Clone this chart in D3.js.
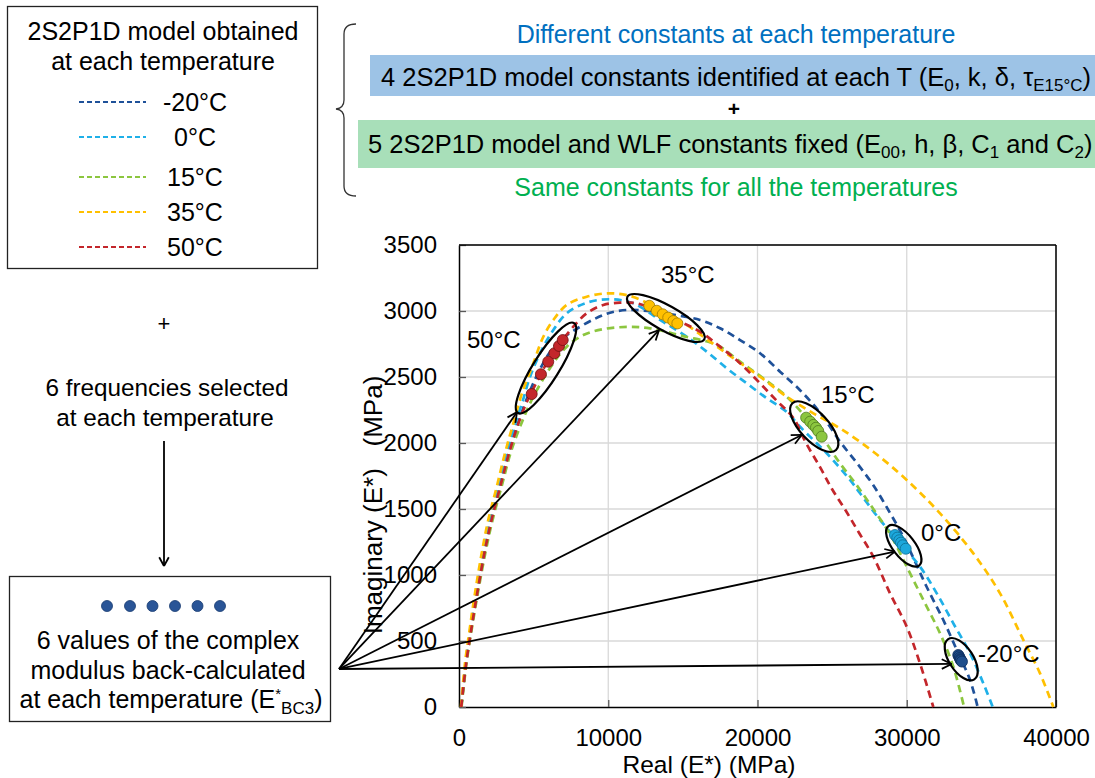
<!DOCTYPE html>
<html><head><meta charset="utf-8">
<script src="https://cdn.jsdelivr.net/npm/d3@7"></script>
<style>body{margin:0;background:#fff} text{font-family:"Liberation Sans",Arial,sans-serif}</style>
</head><body><svg id="c" width="1095" height="778"></svg>
<script>
// ---- data ----
const temps = ["-20°C", "0°C", "15°C", "35°C", "50°C"];
const colors = ["#1f5199", "#1fb0e8", "#8cc63f", "#ffc000", "#c3262b"];
const xTicks = [0, 10000, 20000, 30000, 40000];
const yTicks = [0, 500, 1000, 1500, 2000, 2500, 3000, 3500];

const curveM20 = [[150,0],[470,330],[840,608],[1200,861],[1680,1164],[2160,1417],[2740,1669],[3330,1922],[3950,2149],[4600,2351],[5300,2530],[6100,2690],[6900,2790],[7660,2850],[9000,2935],[10120,2987],[11240,3008],[12350,3003],[14200,2975],[16150,2932],[17490,2869],[18830,2780],[20170,2680],[21510,2540],[22850,2400],[24190,2230],[25530,2010],[26650,1850],[27760,1680],[28880,1470],[29770,1290],[30560,1100],[31340,909],[32450,659],[33350,432],[34240,205],[34750,0]];
const curve0 = [[150,0],[450,330],[800,608],[1150,861],[1600,1164],[2050,1417],[2620,1669],[3200,1922],[3780,2149],[4300,2330],[4760,2502],[5540,2705],[6320,2856],[7220,2983],[8560,3063],[10120,3089],[11680,3058],[13470,2932],[15260,2805],[16600,2692],[17940,2566],[19280,2452],[20620,2339],[21960,2235],[22850,2123],[24640,1922],[26200,1720],[26870,1619],[28210,1417],[29550,1240],[30890,1063],[32010,861],[33120,634],[34240,407],[35130,180],[35760,0]];
const curve15 = [[170,0],[500,330],[880,608],[1260,861],[1760,1164],[2250,1417],[2850,1669],[3450,1922],[4090,2123],[4980,2351],[6320,2604],[7220,2730],[8330,2818],[9670,2863],[11240,2879],[12800,2869],[15000,2810],[17270,2743],[18830,2616],[20390,2490],[21960,2351],[23260,2192],[24300,2048],[25530,1846],[26650,1680],[27760,1500],[28880,1310],[30000,1063],[31110,811],[32230,558],[33120,305],[33840,0]];
const curve35 = [[130,0],[400,330],[740,608],[1070,861],[1520,1164],[1960,1417],[2530,1669],[3080,1922],[3640,2149],[4200,2370],[4980,2604],[5650,2805],[6320,2932],[7220,3046],[8560,3108],[10000,3134],[11460,3114],[12800,3050],[14000,2965],[15260,2894],[16820,2768],[18380,2642],[20170,2502],[21960,2351],[23740,2225],[25530,2111],[27760,1934],[29995,1720],[32230,1467],[34460,1164],[36250,861],[37810,508],[38930,255],[39820,0]];
const curve50 = [[150,0],[480,330],[850,608],[1220,861],[1700,1164],[2180,1417],[2760,1669],[3350,1922],[3980,2149],[4620,2330],[5200,2460],[5800,2590],[6400,2690],[6950,2780],[7660,2881],[8560,2983],[9670,3046],[10790,3063],[11910,3058],[13500,2990],[14800,2920],[16150,2843],[17490,2730],[18830,2604],[20170,2452],[21290,2320],[22400,2190],[23250,2000],[24200,1815],[25000,1650],[25900,1490],[26800,1320],[27760,1139],[28880,861],[30000,608],[30890,329],[31780,0]];

const ptsM20 = [[33450,394],[33500,384],[33550,371],[33600,361],[33620,354],[33700,344]];
const pts0 = [[29210,1303],[29370,1283],[29500,1263],[29610,1245],[29730,1225],[29930,1199]];
const pts15 = [[23260,2192],[23530,2162],[23740,2137],[23920,2116],[24070,2091],[24300,2048]];
const pts35 = [[12750,3040],[13250,3002],[13650,2975],[14020,2950],[14360,2924],[14630,2906]];
const pts50 = [[4870,2371],[5490,2521],[5980,2616],[6390,2680],[6700,2735],[6950,2780]];

const curves = [curveM20, curve0, curve15, curve35, curve50];
const points = [ptsM20, pts0, pts15, pts35, pts50];

// annotation anchors (data units)
const ellipseCenters = [[33650,362],[29800,1221],[23800,2124],[13860,2947],[5830,2568]];
const arrowTips = [[33010,326],[29210,1177],[22960,2061],[13400,2856],[3890,2235]];
const arrowOrigin = [-8040,288];

// ---- drawing ----
const svg = d3.select("#c");
svg.append("rect").attr("width",1095).attr("height",778).attr("fill","#fff");

const x = d3.scaleLinear([0,40000],[459,1056]);
const y = d3.scaleLinear([0,3500],[707,245]);

// grid
const g = svg.append("g");
g.selectAll(".gy").data(yTicks.slice(1)).join("line")
  .attr("x1",x(0)).attr("x2",x(40000)).attr("y1",d=>y(d)).attr("y2",d=>y(d))
  .attr("stroke","#d9d9d9").attr("stroke-width",1.3);
g.selectAll(".gx").data(xTicks.slice(1)).join("line")
  .attr("y1",y(0)).attr("y2",y(3500)).attr("x1",d=>x(d)).attr("x2",d=>x(d))
  .attr("stroke","#d9d9d9").attr("stroke-width",1.3);

// axes
const ax = svg.append("g").attr("transform",`translate(0,${y(0)})`)
  .call(d3.axisBottom(x).tickValues(xTicks).tickFormat(d3.format("d")).tickSizeInner(-7).tickSizeOuter(0).tickPadding(22));
const ay = svg.append("g").attr("transform",`translate(${x(0)},0)`)
  .call(d3.axisLeft(y).tickValues(yTicks).tickFormat(d3.format("d")).tickSizeInner(-7).tickSizeOuter(0).tickPadding(22));
[ax,ay].forEach(a=>{
  a.select(".domain").attr("stroke","#000").attr("stroke-width",1.5);
  a.selectAll(".tick line").attr("stroke","#595959").attr("stroke-width",1.3);
  a.selectAll(".tick text").attr("font-size",24).attr("fill","#000").attr("font-family","Liberation Sans, Arial, sans-serif");
});
// top & right border
svg.append("line").attr("x1",x(0)).attr("x2",x(40000)).attr("y1",y(3500)).attr("y2",y(3500)).attr("stroke","#000").attr("stroke-width",1.5);
svg.append("line").attr("x1",x(40000)).attr("x2",x(40000)).attr("y1",y(0)).attr("y2",y(3500)).attr("stroke","#000").attr("stroke-width",1.5);

// axis titles
svg.append("text").attr("x",709).attr("y",773).attr("text-anchor","middle").attr("font-size",24.5).text("Real (E*) (MPa)");
svg.append("text").attr("transform","translate(382,505) rotate(-90)").attr("text-anchor","middle").attr("font-size",26).attr("xml:space","preserve").text("Imaginary (E*)   (MPa)");

// curves
const line = d3.line().x(d=>x(d[0])).y(d=>y(d[1])).curve(d3.curveCatmullRom.alpha(0.5));
curves.forEach((c,i)=>{
  svg.append("path").attr("d",line(c)).attr("fill","none").attr("stroke",colors[i])
    .attr("stroke-width",2.7).attr("stroke-dasharray","7.5,5");
});

// points
const ptStroke = ["#0d2c5c","#0d6d92","#4f7a1e","#a07800","#6e1010"];
const ptFill = ["#1f4e8c","#1ca8dc","#8cc63f","#ffc000","#c3262b"];
points.forEach((p,i)=>{
  svg.append("g").selectAll("circle").data(p).join("circle")
    .attr("cx",d=>x(d[0])).attr("cy",d=>y(d[1])).attr("r",5.5)
    .attr("fill",ptFill[i]).attr("stroke",ptStroke[i]).attr("stroke-width",0.8);
});

// ellipses
const ellSize = [[24,12,57],[25,11,52],[32,14,47],[44,12.5,29],[53,13,-58]];
ellipseCenters.forEach((c,i)=>{
  const [rx,ry,a] = ellSize[i];
  svg.append("ellipse").attr("transform",`translate(${x(c[0])},${y(c[1])}) rotate(${a})`)
    .attr("rx",rx).attr("ry",ry).attr("fill","none").attr("stroke","#000").attr("stroke-width",2.2);
});

// temperature labels near clusters
const labelPx = [[978,662],[921,541],[821,403],[661,283],[467,348]];
temps.forEach((t,i)=>{
  svg.append("text").attr("x",labelPx[i][0]).attr("y",labelPx[i][1]).attr("font-size",24).text(t);
});

// arrows
function arrow(x1,y1,x2,y2,len=11,ang=0.45){
  svg.append("line").attr("x1",x1).attr("y1",y1).attr("x2",x2).attr("y2",y2).attr("stroke","#000").attr("stroke-width",1.8);
  const t = Math.atan2(y2-y1,x2-x1);
  [ang,-ang].forEach(s=>{
    svg.append("line").attr("x1",x2).attr("y1",y2)
      .attr("x2",x2-len*Math.cos(t+s)).attr("y2",y2-len*Math.sin(t+s))
      .attr("stroke","#000").attr("stroke-width",1.8);
  });
}
arrowTips.forEach(t=>arrow(x(arrowOrigin[0]),y(arrowOrigin[1]),x(t[0]),y(t[1])));

// ---- left legend box ----
svg.append("rect").attr("x",7.5).attr("y",6.5).attr("width",310).attr("height",262).attr("fill","#fff").attr("stroke","#222").attr("stroke-width",1.3);
svg.append("text").attr("x",163).attr("y",40).attr("text-anchor","middle").attr("font-size",25).text("2S2P1D model obtained");
svg.append("text").attr("x",163).attr("y",70).attr("text-anchor","middle").attr("font-size",25).text("at each temperature");
const legY = [102,137,177,212,247];
temps.forEach((t,i)=>{
  svg.append("line").attr("x1",79).attr("x2",146).attr("y1",legY[i]).attr("y2",legY[i])
    .attr("stroke",colors[i]).attr("stroke-width",2.2).attr("stroke-dasharray","5,3");
  svg.append("text").attr("x",195).attr("y",legY[i]+9).attr("text-anchor","middle").attr("font-size",25).text(t);
});

// middle left text
svg.append("text").attr("x",164).attr("y",331).attr("text-anchor","middle").attr("font-size",22).text("+");
svg.append("text").attr("x",167).attr("y",396).attr("text-anchor","middle").attr("font-size",24.3).text("6 frequencies selected");
svg.append("text").attr("x",165).attr("y",426).attr("text-anchor","middle").attr("font-size",24.3).text("at each temperature");
arrow(164,441,164,566,10,0.5);

// bottom-left box
svg.append("rect").attr("x",9.5).attr("y",576.5).attr("width",321).attr("height",145).attr("fill","#fff").attr("stroke","#222").attr("stroke-width",1.3);
const dotX = [107,130,152.5,175,197.5,220];
svg.append("g").selectAll("circle").data(dotX).join("circle")
  .attr("cx",d=>d).attr("cy",606).attr("r",5.5).attr("fill","#2a5597").attr("stroke","#173a70").attr("stroke-width",0.8);
svg.append("text").attr("x",168).attr("y",649).attr("text-anchor","middle").attr("font-size",25).text("6 values of the complex");
svg.append("text").attr("x",168).attr("y",679).attr("text-anchor","middle").attr("font-size",25).text("modulus back-calculated");
const bt = svg.append("text").attr("x",171).attr("y",708).attr("text-anchor","middle").attr("font-size",25);
bt.append("tspan").text("at each temperature (E");
bt.append("tspan").attr("dy",-9).attr("font-size",15).text("*");
bt.append("tspan").attr("dy",15).attr("font-size",17).text("BC3");
bt.append("tspan").attr("dy",-6).text(")");

// ---- top right block ----
svg.append("path").attr("d","M356,24 Q344,24 344,34 L344,100 Q344,108 336,109 Q344,110 344,118 L344,186 Q344,196 356,196")
  .attr("fill","none").attr("stroke","#333").attr("stroke-width",1.3);
svg.append("text").attr("x",736).attr("y",43).attr("text-anchor","middle").attr("font-size",25).attr("fill","#0070c0").text("Different constants at each temperature");
svg.append("rect").attr("x",370).attr("y",55).attr("width",725).attr("height",41).attr("fill","#9dc3e6");
const t1 = svg.append("text").attr("x",381).attr("y",86).attr("font-size",25.5);
t1.append("tspan").text("4 2S2P1D model constants identified at each T (E");
t1.append("tspan").attr("dy",5).attr("font-size",17).text("0");
t1.append("tspan").attr("dy",-5).text(", k, δ, τ");
t1.append("tspan").attr("dy",5).attr("font-size",17).text("E15°C");
t1.append("tspan").attr("dy",-5).text(")");
svg.append("text").attr("x",734).attr("y",116).attr("text-anchor","middle").attr("font-size",21).attr("font-weight","bold").text("+");
svg.append("rect").attr("x",358).attr("y",120).attr("width",737).attr("height",48).attr("fill","#a8dfb9");
const t2 = svg.append("text").attr("x",368).attr("y",153).attr("font-size",25.5);
t2.append("tspan").text("5 2S2P1D model and WLF constants fixed (E");
t2.append("tspan").attr("dy",5).attr("font-size",17).text("00");
t2.append("tspan").attr("dy",-5).text(", h, β, C");
t2.append("tspan").attr("dy",5).attr("font-size",17).text("1");
t2.append("tspan").attr("dy",-5).text(" and C");
t2.append("tspan").attr("dy",5).attr("font-size",17).text("2");
t2.append("tspan").attr("dy",-5).text(")");
svg.append("text").attr("x",736).attr("y",196).attr("text-anchor","middle").attr("font-size",25).attr("fill","#00b050").text("Same constants for all the temperatures");
</script></body></html>
